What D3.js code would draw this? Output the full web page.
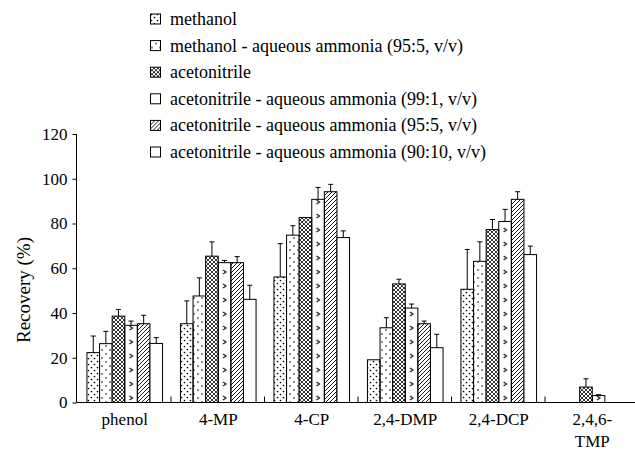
<!DOCTYPE html>
<html>
<head>
<meta charset="utf-8">
<script src="https://cdn.jsdelivr.net/npm/d3@7"></script>
<style>
  body { margin: 0; background: #fff; }
  svg text { font-family: "Liberation Serif", "Times New Roman", serif; }
</style>
</head>
<body>
<svg width="635" height="453"></svg>
<script>
const categories = ["phenol", "4-MP", "4-CP", "2,4-DMP", "2,4-DCP", "2,4,6-TMP"];
const seriesNames = [
  "methanol",
  "methanol - aqueous ammonia (95:5, v/v)",
  "acetonitrile",
  "acetonitrile - aqueous ammonia (99:1, v/v)",
  "acetonitrile - aqueous ammonia (95:5, v/v)",
  "acetonitrile - aqueous ammonia (90:10, v/v)"
];
// recovery (%) per series, in category order
const methanol      = [22.3, 35.2, 56.1, 19.1, 50.6, 0];
const methanolNH3   = [26.3, 47.6, 74.8, 33.4, 63.1, 0];
const acetonitrile  = [38.6, 65.4, 82.7, 53.0, 77.3, 6.9];
const acn99         = [34.5, 62.5, 90.8, 42.2, 80.9, 3.1];
const acn95         = [35.2, 62.5, 94.2, 35.2, 90.8, 0];
const acn90         = [26.4, 46.1, 73.7, 24.5, 66.1, 0];
// upper end of error bars
const methanolErr     = [29.7, 45.4, 71.0, 19.1, 68.4, 0];
const methanolNH3Err  = [31.8, 55.7, 79.0, 37.9, 71.8, 0];
const acetonitrileErr = [41.6, 71.8, 82.7, 55.1, 81.8, 10.6];
const acn99Err        = [36.4, 63.5, 96.1, 44.0, 86.3, 3.5];
const acn95Err        = [39.0, 65.2, 97.5, 36.4, 94.2, 0];
const acn90Err        = [29.0, 52.4, 76.7, 30.5, 69.9, 0];
const yTicks = [0, 20, 40, 60, 80, 100, 120];

const values = [methanol, methanolNH3, acetonitrile, acn99, acn95, acn90];
const errs = [methanolErr, methanolNH3Err, acetonitrileErr, acn99Err, acn95Err, acn90Err];

const serif = "Liberation Serif";
const svg = d3.select("svg");
const x0 = 78, y0 = 402.5, yTop = 134;
const x = d3.scaleBand().domain(categories).range([x0, x0 + 93.5 * 6]);
const y = d3.scaleLinear().domain([0, 120]).range([y0, yTop]);
const bw = 12.6;
const groupOffset = (x.bandwidth() - bw * 6) / 2;

// patterns
const defs = svg.append("defs");
const p1 = defs.append("pattern").attr("id", "p0").attr("patternUnits", "userSpaceOnUse")
  .attr("width", 6).attr("height", 6);
p1.append("circle").attr("cx", 1.5).attr("cy", 1.5).attr("r", 0.85).attr("fill", "#000");
p1.append("circle").attr("cx", 4.5).attr("cy", 4.5).attr("r", 0.85).attr("fill", "#000");

const p2 = defs.append("pattern").attr("id", "p1").attr("patternUnits", "userSpaceOnUse")
  .attr("width", 8).attr("height", 8);
p2.append("circle").attr("cx", 2).attr("cy", 2).attr("r", 0.8).attr("fill", "#000");
p2.append("circle").attr("cx", 6).attr("cy", 6).attr("r", 0.8).attr("fill", "#000");

const p3 = defs.append("pattern").attr("id", "p2").attr("patternUnits", "userSpaceOnUse")
  .attr("width", 4).attr("height", 4);
p3.append("rect").attr("width", 4).attr("height", 4).attr("fill", "#fff");
p3.append("path").attr("d", "M0,0L4,4M4,0L0,4").attr("stroke", "#000").attr("stroke-width", 0.8);

// ">" marks, one column per bar: tile width = one band, so every group lines up
const p4 = defs.append("pattern").attr("id", "p3").attr("patternUnits", "userSpaceOnUse")
  .attr("x", x0).attr("y", 0).attr("width", x.step()).attr("height", 14);
p4.append("path")
  .attr("d", () => {
    const cx = groupOffset + 3 * bw + bw / 2;
    return `M${cx - 1.5},4L${cx + 1.5},6L${cx - 1.5},8`;
  })
  .attr("fill", "none").attr("stroke", "#000").attr("stroke-width", 1);

const p5 = defs.append("pattern").attr("id", "p4").attr("patternUnits", "userSpaceOnUse")
  .attr("width", 4).attr("height", 4);
p5.append("path").attr("d", "M-1,5L5,-1M-1,1L1,-1M3,5L5,3").attr("stroke", "#000").attr("stroke-width", 0.9);

const fills = ["url(#p0)", "url(#p1)", "url(#p2)", "url(#p3)", "url(#p4)", "#fff"];

// bars
const bars = [];
values.forEach((vals, s) => {
  vals.forEach((v, c) => {
    bars.push({ s, c, v, e: errs[s][c] });
  });
});

const barX = d => x(categories[d.c]) + groupOffset + d.s * bw;

svg.append("g").selectAll("rect")
  .data(bars.filter(d => d.v > 0))
  .join("rect")
  .attr("x", barX).attr("y", d => y(d.v))
  .attr("width", bw).attr("height", d => y0 - y(d.v))
  .attr("fill", d => fills[d.s])
  .attr("stroke", "#000").attr("stroke-width", 1);

// error bars
const eb = svg.append("g").attr("stroke", "#000").attr("stroke-width", 1);
bars.filter(d => d.e > d.v + 0.3).forEach(d => {
  const cx = barX(d) + bw / 2;
  eb.append("line").attr("x1", cx).attr("x2", cx).attr("y1", y(d.v)).attr("y2", y(d.e));
  eb.append("line").attr("x1", cx - 2.5).attr("x2", cx + 2.5).attr("y1", y(d.e)).attr("y2", y(d.e));
});

// y axis
const yAxis = svg.append("g").attr("transform", "translate(76.5,0)")
  .call(d3.axisLeft(y).tickValues(yTicks).tickSize(4).tickPadding(5));
yAxis.attr("font-family", serif).attr("font-size", 17);
yAxis.select(".domain").attr("d", `M0,${yTop}V${y0}`);
yAxis.selectAll("text").attr("font-family", serif).attr("font-size", 17);

// x axis baseline and separators
svg.append("line").attr("x1", 76.5).attr("x2", 635).attr("y1", y0).attr("y2", y0)
  .attr("stroke", "#000").attr("stroke-width", 1);
svg.append("g").selectAll("line")
  .data(categories.slice(1))
  .join("line")
  .attr("x1", d => x(d) - 0.5).attr("x2", d => x(d) - 0.5)
  .attr("y1", y0).attr("y2", y0 - 6)
  .attr("stroke", "#000");

svg.append("g").selectAll("text")
  .data(categories)
  .join("text")
  .attr("x", d => x(d) + x.bandwidth() / 2)
  .attr("y", 425)
  .attr("text-anchor", "middle")
  .attr("font-family", serif)
  .attr("font-size", 17)
  .each(function(d) {
    const t = d3.select(this);
    if (d === "2,4,6-TMP") {
      t.append("tspan").attr("x", x(d) + x.bandwidth() / 2).text("2,4,6-");
      t.append("tspan").attr("x", x(d) + x.bandwidth() / 2).attr("dy", 22).text("TMP");
    } else {
      t.text(d);
    }
  });

svg.append("text")
  .attr("transform", "translate(30,290) rotate(-90)")
  .attr("text-anchor", "middle")
  .attr("font-family", serif)
  .attr("font-size", 19)
  .text("Recovery (%)");

// legend
const legend = svg.append("g").selectAll("g")
  .data(seriesNames)
  .join("g")
  .attr("transform", (d, i) => `translate(150,${19 + i * 26.6})`);
legend.append("rect").attr("x", 0.5).attr("y", -5).attr("width", 10).attr("height", 10)
  .attr("fill", "#fff");
legend.append("rect").attr("x", 0.5).attr("y", -5).attr("width", 10).attr("height", 10)
  .attr("fill", (d, i) => i === 3 ? "#fff" : fills[i]).attr("stroke", "#000");
legend.append("text").attr("x", 20).attr("y", 6)
  .attr("font-family", serif).attr("font-size", 18).text(d => d);
</script>
</body>
</html>
